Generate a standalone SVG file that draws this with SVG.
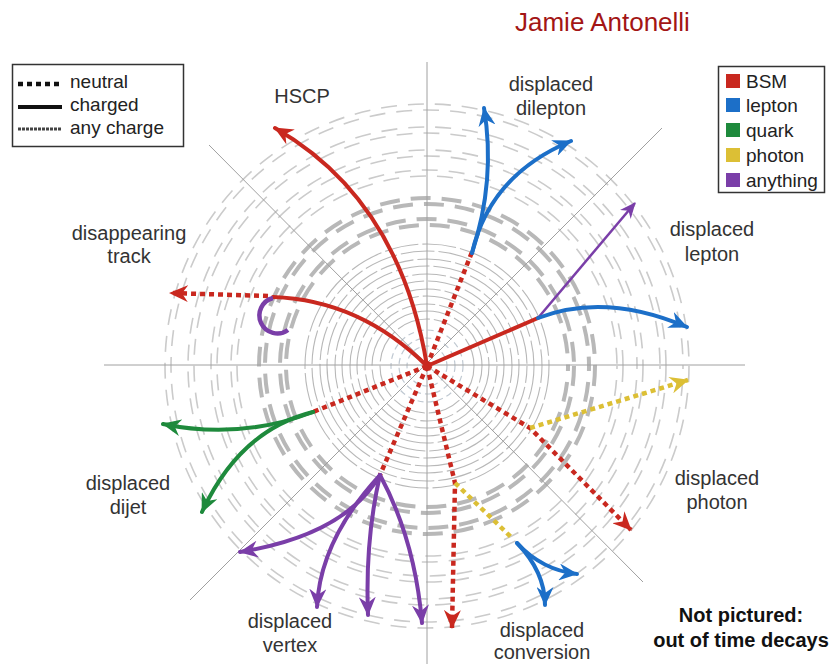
<svg xmlns="http://www.w3.org/2000/svg" width="829" height="664" viewBox="0 0 829 664">
<style>
.ax{stroke:#a0a0a0;stroke-width:1;fill:none}
.ro{fill:none;stroke:#cbcbcb;stroke-width:1.6;stroke-dasharray:16 11}
.rt{fill:none;stroke:#b8b8b8;stroke-width:4;stroke-dasharray:20 11}
.ri{fill:none;stroke:#b8b8b8;stroke-width:1.1;stroke-dasharray:34 4}
.rc{fill:none;stroke:#c0c9d2;stroke-width:1.2;stroke-dasharray:6 4}
.dot{fill:none;stroke-width:4.5;stroke-dasharray:5 4}
.sol{fill:none;stroke-width:4;stroke-linecap:round}
.red{stroke:#c9281f}.blue{stroke:#1c6fc8}.green{stroke:#1e8a3c}.yel{stroke:#dcbf35}.pur{stroke:#7a3ea8}
.lbl{font-family:"Liberation Sans",Arial,sans-serif;font-size:20px;fill:#333;text-anchor:middle}
.leg{font-family:"Liberation Sans",Arial,sans-serif;font-size:19px;fill:#222}
</style>
<defs>
<marker id="mr" viewBox="0 0 19 17" refX="18" refY="8.5" markerWidth="19" markerHeight="17" orient="auto" markerUnits="userSpaceOnUse"><path d="M0,0 L19,8.5 L0,17 L6,8.5 z" fill="#c9281f"/></marker>
<marker id="mb" viewBox="0 0 19 17" refX="18" refY="8.5" markerWidth="19" markerHeight="17" orient="auto" markerUnits="userSpaceOnUse"><path d="M0,0 L19,8.5 L0,17 L6,8.5 z" fill="#1c6fc8"/></marker>
<marker id="mg" viewBox="0 0 19 17" refX="18" refY="8.5" markerWidth="19" markerHeight="17" orient="auto" markerUnits="userSpaceOnUse"><path d="M0,0 L19,8.5 L0,17 L6,8.5 z" fill="#1e8a3c"/></marker>
<marker id="my" viewBox="0 0 19 17" refX="18" refY="8.5" markerWidth="19" markerHeight="17" orient="auto" markerUnits="userSpaceOnUse"><path d="M0,0 L19,8.5 L0,17 L6,8.5 z" fill="#dcbf35"/></marker>
<marker id="mp" viewBox="0 0 19 17" refX="18" refY="8.5" markerWidth="19" markerHeight="17" orient="auto" markerUnits="userSpaceOnUse"><path d="M0,0 L19,8.5 L0,17 L6,8.5 z" fill="#7a3ea8"/></marker>
<marker id="mps" viewBox="0 0 16 14" refX="15" refY="7" markerWidth="16" markerHeight="14" orient="auto" markerUnits="userSpaceOnUse"><path d="M0,0 L16,7 L0,14 L5,7 z" fill="#7a3ea8"/></marker>
</defs>
<rect width="829" height="664" fill="#fff"/>
<g id="detector">
<g id="rings-outer">
<circle class="ro" cx="427" cy="366" r="262"/>
<circle class="ro" cx="427" cy="366" r="256" stroke-dashoffset="13"/>
<circle class="ro" cx="427" cy="366" r="239"/>
<circle class="ro" cx="427" cy="366" r="233" stroke-dashoffset="13"/>
<circle class="ro" cx="427" cy="366" r="216"/>
<circle class="ro" cx="427" cy="366" r="210" stroke-dashoffset="13"/>
<circle class="ro" cx="427" cy="366" r="196"/>
<circle class="ro" cx="427" cy="366" r="190" stroke-dashoffset="13"/>
</g>
<g id="rings-thick">
<circle class="rt" cx="427" cy="366" r="168"/>
<circle class="rt" cx="427" cy="366" r="162" stroke-dashoffset="15"/>
<circle class="rt" cx="427" cy="366" r="147"/>
<circle class="rt" cx="427" cy="366" r="141" stroke-dashoffset="15"/>
</g>
<g id="rings-inner">
<circle class="ri" cx="427" cy="366" r="122"/>
<circle class="ri" cx="427" cy="366" r="115" stroke-dashoffset="17"/>
<circle class="ri" cx="427" cy="366" r="107"/>
<circle class="ri" cx="427" cy="366" r="100" stroke-dashoffset="17"/>
<circle class="ri" cx="427" cy="366" r="92"/>
<circle class="ri" cx="427" cy="366" r="85" stroke-dashoffset="17"/>
<circle class="ri" cx="427" cy="366" r="77"/>
<circle class="ri" cx="427" cy="366" r="70" stroke-dashoffset="17"/>
<circle class="ri" cx="427" cy="366" r="62"/>
<circle class="ri" cx="427" cy="366" r="55" stroke-dashoffset="17"/>
<circle class="ri" cx="427" cy="366" r="47"/>
<circle class="rc" cx="427" cy="366" r="36"/>
<circle class="rc" cx="427" cy="366" r="28"/>
<circle class="rc" cx="427" cy="366" r="20"/>
</g>
<g id="axes">
<line class="ax" x1="427" y1="62" x2="427" y2="664"/>
<line class="ax" x1="104" y1="365" x2="745" y2="365"/>
<line class="ax" x1="209" y1="145" x2="643" y2="582"/>
<line class="ax" x1="190" y1="600" x2="662" y2="128"/>
</g>
</g>
<g id="connectors">
<path class="sol red" d="M427,366 Q400,200 275,128" marker-end="url(#mr)"/>
<path class="sol red" d="M427,366 Q360,300 273,297"/>
<path class="dot red" d="M268,296 L170,293" marker-end="url(#mr)"/>
<path class="pur" fill="none" stroke-width="4.5" d="M273,298 A18,18 0 1 0 288,330"/>
<path class="dot red" d="M427,366 L472,252"/>
<path class="sol blue" d="M472,253 Q496,180 484,108" marker-end="url(#mb)"/>
<path class="sol blue" d="M472,253 Q490,175 571,141" marker-end="url(#mb)"/>
<path class="sol red" d="M427,366 L538,318" stroke-width="3"/>
<path fill="none" class="pur" stroke-width="2.5" d="M538,318 L635,203" marker-end="url(#mps)"/>
<path class="sol blue" d="M538,318 Q605,292 687,327" marker-end="url(#mb)"/>
<path class="dot red" d="M427,366 L530,428 L631,530" marker-end="url(#mr)"/>
<path class="dot yel" d="M530,428 L688,380" marker-end="url(#my)"/>
<path class="dot red" d="M427,366 L455,483 L452,628" marker-end="url(#mr)"/>
<path class="dot yel" d="M455,483 L512,538"/>
<path class="sol blue" d="M517,543 Q542,570 577,574" marker-end="url(#mb)"/>
<path class="sol blue" d="M517,543 Q545,572 545,605" marker-end="url(#mb)"/>
<path class="dot red" d="M427,366 L380,475"/>
<path class="sol pur" d="M380,475 Q345,535 240,552" marker-end="url(#mp)"/>
<path class="sol pur" d="M380,475 Q320,540 317,607" marker-end="url(#mp)"/>
<path class="sol pur" d="M380,475 Q365,540 368,615" marker-end="url(#mp)"/>
<path class="sol pur" d="M380,475 Q415,540 422,623" marker-end="url(#mp)"/>
<path class="dot red" d="M427,366 L313,412"/>
<path class="sol green" d="M313,412 Q240,440 163,424" marker-end="url(#mg)"/>
<path class="sol green" d="M313,412 Q240,430 202,512" marker-end="url(#mg)"/>
</g>
<g id="label-author"><text x="515" y="31" font-family="Liberation Sans,Arial,sans-serif" font-size="26" fill="#a31515">Jamie Antonelli</text></g>
<g id="label-hscp"><text class="lbl" x="302" y="103">HSCP</text></g>
<g id="label-dilepton"><text class="lbl" x="551" y="91">displaced</text><text class="lbl" x="551" y="115">dilepton</text></g>
<g id="label-disappearing"><text class="lbl" x="129" y="240">disappearing</text><text class="lbl" x="129" y="263">track</text></g>
<g id="label-lepton"><text class="lbl" x="712" y="236">displaced</text><text class="lbl" x="712" y="261">lepton</text></g>
<g id="label-photon"><text class="lbl" x="717" y="485">displaced</text><text class="lbl" x="717" y="509">photon</text></g>
<g id="label-dijet"><text class="lbl" x="128" y="490">displaced</text><text class="lbl" x="128" y="514">dijet</text></g>
<g id="label-vertex"><text class="lbl" x="290" y="628">displaced</text><text class="lbl" x="290" y="652">vertex</text></g>
<g id="label-conversion"><text class="lbl" x="542" y="637">displaced</text><text class="lbl" x="542" y="659">conversion</text></g>
<g id="label-notpictured"><text x="741" y="622" font-family="Liberation Sans,Arial,sans-serif" font-size="20" font-weight="bold" fill="#111" text-anchor="middle">Not pictured:</text><text x="741" y="647" font-family="Liberation Sans,Arial,sans-serif" font-size="20" font-weight="bold" fill="#111" text-anchor="middle">out of time decays</text></g>
<g id="legend-charge">
<rect x="12.5" y="64.5" width="171" height="82" fill="#fff" stroke="#333" stroke-width="1.5"/>
<line x1="18" y1="84" x2="62" y2="84" stroke="#111" stroke-width="4.5" stroke-dasharray="5 4"/>
<line x1="18" y1="107" x2="62" y2="107" stroke="#111" stroke-width="4"/>
<line x1="18" y1="129" x2="62" y2="129" stroke="#444" stroke-width="3" stroke-dasharray="3 1"/>
<text class="leg" x="70" y="88">neutral</text>
<text class="leg" x="70" y="111">charged</text>
<text class="leg" x="70" y="134">any charge</text>
</g>
<g id="legend-colour">
<rect x="718.5" y="66.5" width="106" height="126" fill="#fff" stroke="#333" stroke-width="1.5"/>
<rect x="726" y="74" width="14" height="14" fill="#c9281f"/>
<rect x="726" y="98" width="14" height="14" fill="#1c6fc8"/>
<rect x="726" y="123" width="14" height="14" fill="#1e8a3c"/>
<rect x="726" y="148" width="14" height="14" fill="#dcbf35"/>
<rect x="726" y="173" width="14" height="14" fill="#7a3ea8"/>
<text class="leg" x="746" y="88">BSM</text>
<text class="leg" x="746" y="112">lepton</text>
<text class="leg" x="746" y="137">quark</text>
<text class="leg" x="746" y="162">photon</text>
<text class="leg" x="746" y="187">anything</text>
</g>
</svg>
